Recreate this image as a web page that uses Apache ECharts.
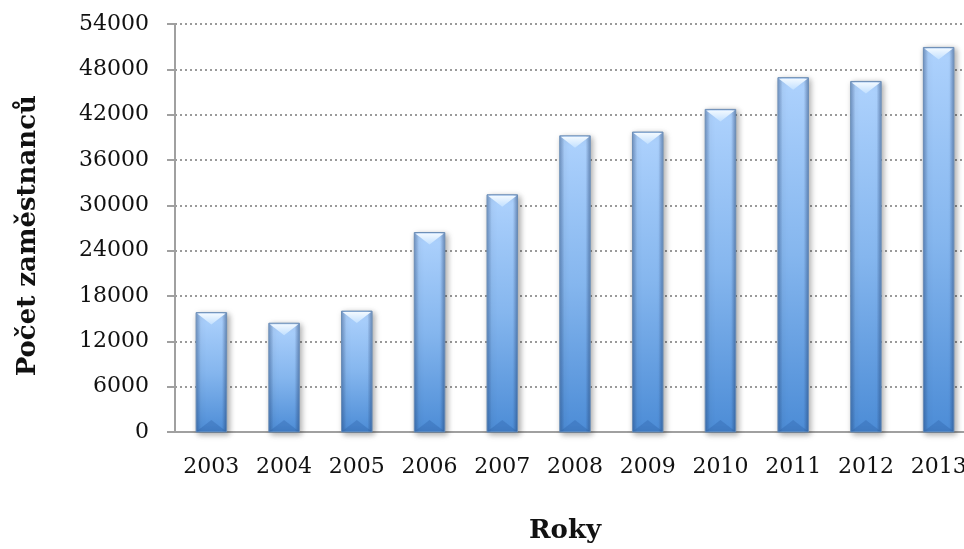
<!DOCTYPE html>
<html>
<head>
<meta charset="utf-8">
<script src="https://cdn.jsdelivr.net/npm/echarts@6/dist/echarts.min.js"></script>
<style>
  html, body { margin: 0; padding: 0; background: #fff; }
  #chart { width: 964px; height: 549px; }
</style>
</head>
<body>
<div id="chart"></div>
<script>
var years = ['2003', '2004', '2005', '2006', '2007', '2008', '2009', '2010', '2011', '2012', '2013'];
var employees = [15800, 14400, 16000, 26400, 31400, 39200, 39700, 42700, 46900, 46400, 50900];
var yTicks = { min: 0, max: 54000, step: 6000 };
var yTitle = 'Počet zaměstnanců';
var xTitle = 'Roky';

var serif = '"DejaVu Serif", "Liberation Serif", serif';
var chart = echarts.init(document.getElementById('chart'));

// sloupec s gradientem a zkosenou horni hranou
function renderBar(params, api) {
  var top = api.coord([api.value(0), api.value(1)]);
  var base = api.coord([api.value(0), 0]);
  var bw = api.size([1, 0])[0] * 0.42;
  var x = top[0] - bw / 2;
  var y = top[1];
  var h = base[1] - top[1];
  var bev = Math.min(12, h / 2);
  return {
    type: 'group',
    children: [
      {
        type: 'rect',
        shape: { x: x, y: y, width: bw, height: h },
        style: {
          fill: new echarts.graphic.LinearGradient(0, 0, 0, 1, [
            { offset: 0, color: '#aed2fd' },
            { offset: 0.5, color: '#85b6ee' },
            { offset: 1, color: '#4c8cd6' }
          ]),
          stroke: '#6b8db5',
          lineWidth: 1,
          shadowBlur: 6,
          shadowOffsetX: 2,
          shadowOffsetY: 2,
          shadowColor: 'rgba(0,0,0,0.35)'
        }
      },
      {
        type: 'rect',
        shape: { x: x + 0.5, y: y + 0.5, width: bw - 1, height: h - 1 },
        style: {
          fill: new echarts.graphic.LinearGradient(0, 0, 1, 0, [
            { offset: 0, color: 'rgba(30,60,110,0.35)' },
            { offset: 0.14, color: 'rgba(30,60,110,0)' },
            { offset: 0.86, color: 'rgba(30,60,110,0)' },
            { offset: 1, color: 'rgba(30,60,110,0.4)' }
          ])
        }
      },
      {
        type: 'polygon',
        shape: { points: [[x + 1, y + 1], [x + bw - 1, y + 1], [x + bw / 2, y + bev]] },
        style: {
          fill: new echarts.graphic.LinearGradient(0, 0, 0, 1, [
            { offset: 0, color: '#f2f9ff' },
            { offset: 1, color: '#c2e0ff' }
          ])
        }
      },
      {
        type: 'polygon',
        shape: { points: [[x + 1, base[1] - 1], [x + bw - 1, base[1] - 1], [x + bw / 2, base[1] - bev]] },
        style: { fill: 'rgba(40,90,160,0.3)' }
      }
    ]
  };
}

chart.setOption({
  animation: false,
  grid: { left: 175, top: 24, width: 800, height: 408, outerBoundsMode: 'none' },
  xAxis: {
    type: 'category',
    data: years,
    axisLine: { lineStyle: { color: '#a0a0a0', width: 2 } },
    axisTick: { show: false },
    axisLabel: { color: '#111', fontFamily: serif, fontSize: 22, margin: 24, interval: 0 }
  },
  yAxis: {
    type: 'value',
    min: yTicks.min,
    max: yTicks.max,
    interval: yTicks.step,
    axisLine: { show: true, lineStyle: { color: '#a0a0a0', width: 2 } },
    axisTick: { show: true, length: 8, lineStyle: { color: '#a0a0a0', width: 2 } },
    axisLabel: {
      color: '#111', fontFamily: serif, fontSize: 22, margin: 26,
      formatter: function (v) { return String(v); }
    },
    splitLine: { lineStyle: { color: '#9a9a9a', width: 2, type: [2, 3] } }
  },
  graphic: [
    {
      type: 'text',
      left: 15, top: 95,
      rotation: Math.PI / 2,
      style: { text: yTitle, font: 'bold 26px ' + serif, fill: '#111' }
    },
    {
      type: 'text',
      left: 529, top: 518,
      style: { text: xTitle, font: 'bold 26px ' + serif, fill: '#111' }
    }
  ],
  series: [{
    type: 'custom',
    renderItem: renderBar,
    encode: { x: 0, y: 1 },
    data: years.map(function (y, i) { return [i, employees[i]]; })
  }]
});
</script>
</body>
</html>
